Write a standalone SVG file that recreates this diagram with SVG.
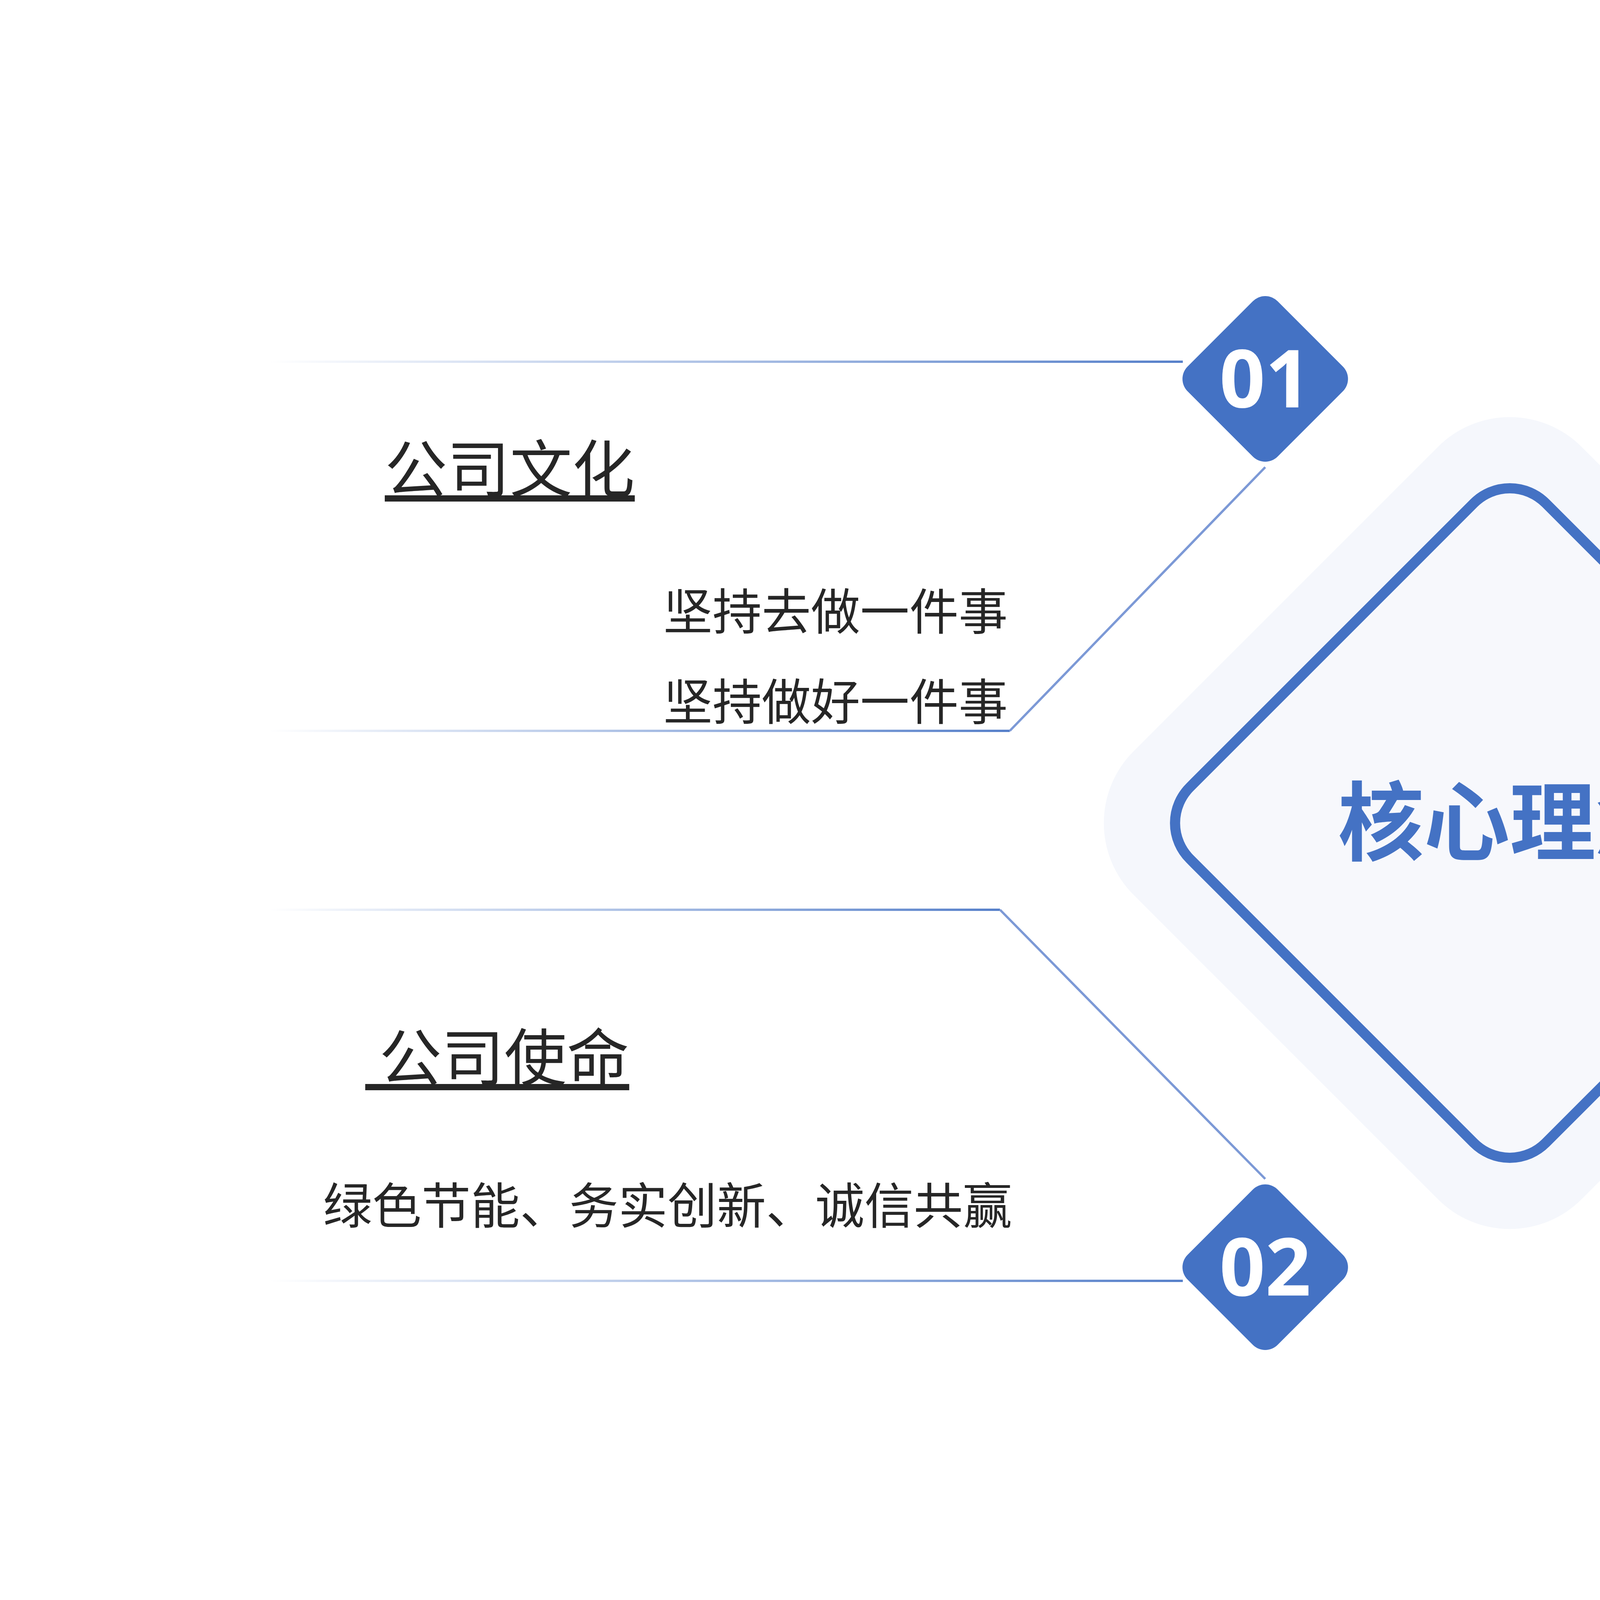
<svg xmlns="http://www.w3.org/2000/svg" width="7680" height="4320" viewBox="0 0 7680 4320">
<defs>
<linearGradient id="gL" gradientUnits="objectBoundingBox" x1="0" y1="0" x2="1" y2="0"><stop offset="0" stop-color="#4472c4" stop-opacity="0"/><stop offset="1" stop-color="#4472c4" stop-opacity="0.9"/></linearGradient>
<linearGradient id="gR" gradientUnits="objectBoundingBox" x1="0" y1="0" x2="1" y2="0"><stop offset="0" stop-color="#4472c4" stop-opacity="0.9"/><stop offset="1" stop-color="#4472c4" stop-opacity="0"/></linearGradient>
<style>
.t{font-family:"Noto Sans CJK SC","Liberation Sans",sans-serif;fill:#262626}
.h{font-size:160px;text-decoration:underline}
.b{font-size:126px}
.n{font-family:"Noto Sans","Liberation Sans",sans-serif;font-weight:bold;font-size:205px;fill:#fff;text-anchor:middle}
.d{fill:none;stroke:#7c99d6;stroke-width:6}
.dm{fill:#4472c4}
</style>
</defs>
<rect width="7680" height="4320" fill="#fff"/>
<g id="connectors">
<rect x="689" y="923" width="2339" height="6" fill="url(#gL)"/>
<rect x="689" y="1868" width="1896" height="6" fill="url(#gL)"/>
<rect x="689" y="2326" width="1871" height="6" fill="url(#gL)"/>
<rect x="689" y="3276" width="2339" height="6" fill="url(#gL)"/>
<rect x="4677" y="918" width="2264" height="6" fill="url(#gR)"/>
<rect x="5154" y="1863" width="1984" height="6" fill="url(#gR)"/>
<rect x="5154" y="2321" width="1935" height="6" fill="url(#gR)"/>
<rect x="4701" y="3271" width="2339" height="6" fill="url(#gR)"/>
<path class="d" d="M3239 1196 L2585 1871"/>
<path class="d" d="M2560 2329 L3239 3018"/>
<path class="d" d="M4460 1157 L5154 1866"/>
<path class="d" d="M4485 3018 L5154 2324"/>
</g>
<g id="bg"><rect x="3054" y="1296" width="1622" height="1622" rx="260" fill="#f5f7fc" transform="rotate(45 3865 2107)"/></g>
<g id="center">
<rect x="3221" y="1463" width="1288" height="1288" rx="130" fill="#f7f8fc" stroke="#4472c4" stroke-width="26" transform="rotate(45 3865 2107)"/>
<text x="3865" y="2186" text-anchor="middle" style="font-family:'Noto Sans CJK SC',sans-serif;font-weight:bold;font-size:220px;fill:#4472c4">核心理念</text>
</g>
<g id="n01"><rect x="3076" y="807" width="326" height="326" rx="45" class="dm" transform="rotate(45 3239 970)"/><text class="n" x="3239" y="1043">01</text></g>
<g id="n02"><rect x="3076" y="3081" width="326" height="326" rx="45" class="dm" transform="rotate(45 3239 3244)"/><text class="n" x="3239" y="3317">02</text></g>
<g id="n03"><rect x="4297" y="767" width="326" height="326" rx="45" class="dm" transform="rotate(45 4460 930)"/><text class="n" x="4460" y="1003">03</text></g>
<g id="n04"><rect x="4322" y="3081" width="326" height="326" rx="45" class="dm" transform="rotate(45 4485 3244)"/><text class="n" x="4485" y="3317">04</text></g>
<g id="culture"><text class="t h" x="985" y="1260">公司文化</text><text class="t b" x="1698" y="1612">坚持去做一件事</text><text class="t b" x="1698" y="1843">坚持做好一件事</text></g>
<g id="values"><text class="t h" x="5080" y="1212">核心价值观念</text><text class="t b" x="5479" y="1548">以客户为中心、以奋斗者为本</text><text class="t b" x="5465" y="1779">持续创新、长期坚持艰苦奋斗</text></g>
<g id="mission"><text class="t h" x="935" y="2767" xml:space="preserve"> 公司使命</text><text class="t b" x="827" y="3133">绿色节能、务实创新、诚信共赢</text></g>
<g id="vision"><text class="t h" x="5085" y="2728">公司愿景</text><text class="t b" x="5474" y="3069" xml:space="preserve">存活下去 均衡发展</text></g>
</svg>
